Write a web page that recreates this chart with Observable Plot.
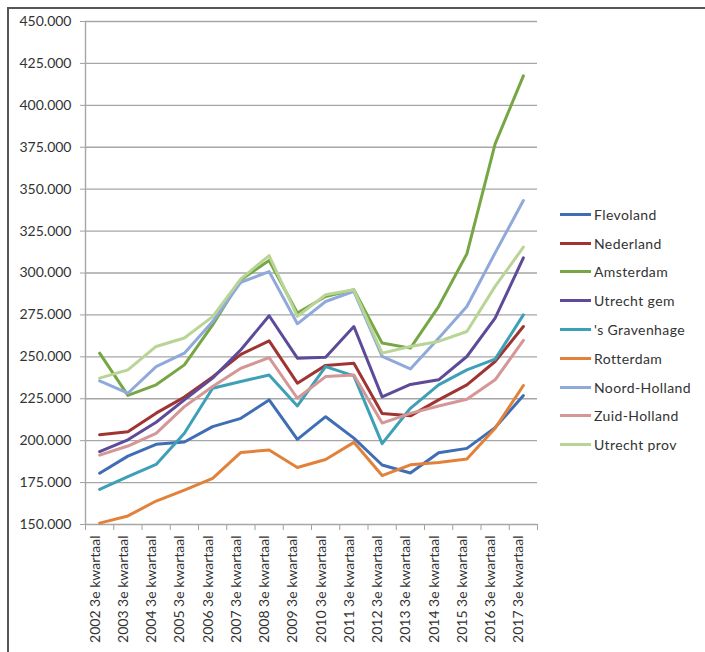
<!DOCTYPE html>
<html><head><meta charset="utf-8">
<script src="https://cdn.jsdelivr.net/npm/d3@7"></script>
<script src="https://cdn.jsdelivr.net/npm/@observablehq/plot@0.6"></script>
<style>
html,body{margin:0;padding:0;background:#fff;}
#wrap{position:relative;width:705px;height:652px;overflow:hidden;font-family:Lato,"Open Sans",sans-serif;}
#frame{position:absolute;left:7px;top:7px;right:-5px;bottom:-5px;border-left:2px solid #555;border-top:2px solid #555;}
#chart{position:absolute;left:0;top:0;}
#legend{position:absolute;left:560px;top:200px;}
.row{position:absolute;left:0;height:20px;display:flex;align-items:center;white-space:nowrap;}
.sw{width:31px;height:3px;margin-right:3px;}
.lab{font-size:14px;color:#333;letter-spacing:0.4px;}
#chart svg text{fill:#333;}
</style></head><body>
<div id="wrap"><div id="frame"></div><div id="chart"></div><div id="legend"></div></div>
<script>
const quarterLabels = ["2002 3e kwartaal","2003 3e kwartaal","2004 3e kwartaal","2005 3e kwartaal","2006 3e kwartaal","2007 3e kwartaal","2008 3e kwartaal","2009 3e kwartaal","2010 3e kwartaal","2011 3e kwartaal","2012 3e kwartaal","2013 3e kwartaal","2014 3e kwartaal","2015 3e kwartaal","2016 3e kwartaal","2017 3e kwartaal"];
const yTicks = [150,175,200,225,250,275,300,325,350,375,400,425,450];
const categoryBounds = [-0.5,0.5,1.5,2.5,3.5,4.5,5.5,6.5,7.5,8.5,9.5,10.5,11.5,12.5,13.5,14.5,15.5];

// values in thousands of euros
const flevoland    = [180.6,190.8,197.8,199.2,208.4,213.3,224.3,200.8,214.3,201.5,185.5,180.7,192.8,195.4,207.8,226.9];
const nederland    = [203.5,205.3,216.4,226.0,238.0,251.5,259.5,234.3,244.9,246.2,216.2,214.8,224.3,233.3,247.2,268.1];
const amsterdam    = [252.2,227.0,233.3,245.2,269.0,296.0,307.5,276.1,286.0,290.0,258.2,255.2,280.0,311.4,377.0,417.6];
const utrechtGem   = [193.5,200.5,211.0,224.3,237.3,254.2,274.5,249.2,249.8,268.1,226.1,233.5,236.3,250.2,273.1,309.0];
const gravenhage   = [170.9,178.5,185.8,204.4,231.3,235.3,239.2,220.7,244.2,238.6,198.2,219.3,233.3,242.2,248.6,275.0];
const rotterdam    = [150.8,155.1,164.0,170.5,177.5,193.0,194.4,184.0,188.8,199.0,179.2,185.6,187.0,189.0,207.4,232.9];
const noordHolland = [235.7,228.3,244.2,252.2,271.0,294.5,300.8,269.7,283.0,289.0,250.2,242.8,261.1,280.0,312.0,343.2];
const zuidHolland  = [191.4,196.8,204.3,220.3,232.3,243.2,249.5,225.3,238.2,239.2,210.5,216.3,220.7,224.7,236.3,259.8];
const utrechtProv  = [237.3,242.2,256.2,261.2,274.0,296.5,310.4,274.1,287.0,290.0,252.2,256.2,259.2,265.1,292.0,315.4];

const seriesNames  = ["Flevoland","Nederland","Amsterdam","Utrecht gem","'s Gravenhage","Rotterdam","Noord-Holland","Zuid-Holland","Utrecht prov"];
const seriesValues = [flevoland,nederland,amsterdam,utrechtGem,gravenhage,rotterdam,noordHolland,zuidHolland,utrechtProv];
const seriesColors = ["#3f6eb5","#a03432","#77a645","#5d4b9a","#3ea0b6","#e2823a","#90a9db","#d49696","#b8d596"];

const rows = [];
seriesNames.forEach((name, s) => seriesValues[s].forEach((v, i) => rows.push({name, i, v})));

const chart = Plot.plot({
  width: 705, height: 652,
  marginLeft: 85, marginRight: 168, marginTop: 21, marginBottom: 128,
  style: {fontFamily: "Lato, 'Open Sans', sans-serif", fontSize: "14px", color: "#a0a0a0", background: "transparent", overflow: "visible"},
  x: {type: "linear", domain: [-0.5, 15.5], ticks: categoryBounds, tickFormat: () => "", tickSize: 6, label: null},
  y: {domain: [150, 450], ticks: yTicks, tickFormat: d3.format(".3f"), tickSize: 5, tickPadding: 9, label: null},
  color: {domain: seriesNames, range: seriesColors},
  marks: [
    Plot.ruleY(yTicks, {stroke: "#a6a6a6", strokeWidth: 1.4}),
    Plot.ruleX([-0.5], {stroke: "#a6a6a6", strokeWidth: 1.4}),
    Plot.line(rows, {x: "i", y: "v", z: "name", stroke: "name", strokeWidth: 3, strokeLinejoin: "round", strokeLinecap: "round"}),
    Plot.text(quarterLabels, {x: (d, i) => i, frameAnchor: "bottom", dy: 11, rotate: -90, textAnchor: "end", fill: "#333", fontSize: 14})
  ]
});
document.getElementById("chart").appendChild(chart);

const legend = document.getElementById("legend");
seriesNames.forEach((name, i) => {
  const row = document.createElement("div");
  row.className = "row";
  row.style.top = (4.3 + i * 28.8) + "px";
  const sw = document.createElement("div");
  sw.className = "sw";
  sw.style.background = seriesColors[i];
  const lab = document.createElement("span");
  lab.className = "lab";
  lab.textContent = name;
  row.appendChild(sw); row.appendChild(lab);
  legend.appendChild(row);
});
</script>
</body></html>
